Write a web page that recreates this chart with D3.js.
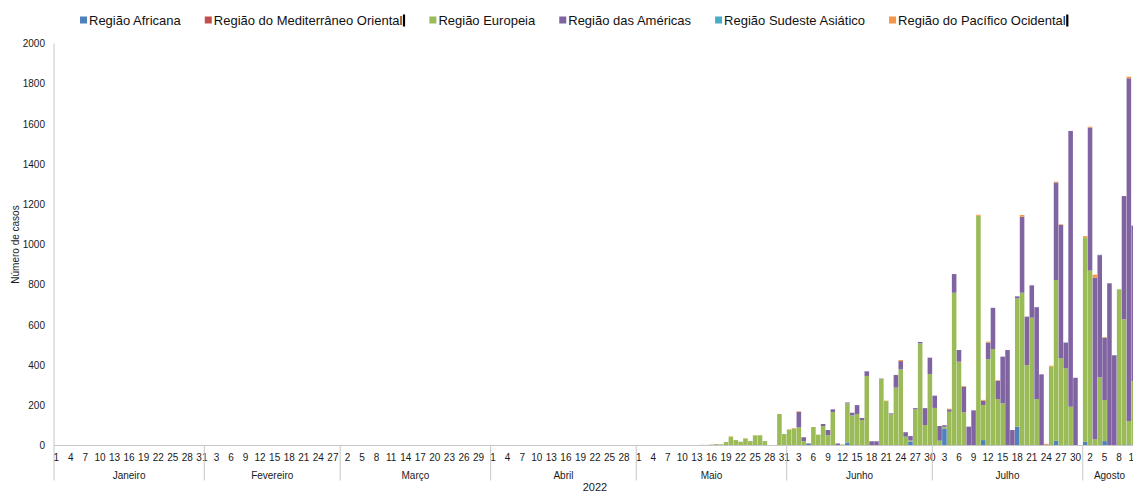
<!DOCTYPE html>
<html>
<head>
<meta charset="utf-8">
<script src="https://cdn.jsdelivr.net/npm/d3@7"></script>
<style>
body { margin: 0; background: #fff; }
svg { display: block; font-family: "Liberation Sans", Arial, sans-serif; }
</style>
</head>
<body>
<svg id="chart" width="1133" height="492"></svg>
<script>
// regions, stacked bottom to top
const regions = ["Região Africana", "Região do Mediterrâneo Oriental", "Região Europeia",
                 "Região das Américas", "Região Sudeste Asiático", "Região do Pacífico Ocidental"];
const regionColors = ["#4f81bd", "#c0504d", "#9bbb59", "#8064a2", "#4bacc6", "#f79646"];
const cursorAfter = ["Região do Mediterrâneo Oriental", "Região do Pacífico Ocidental"];

const monthNames = ["Janeiro", "Fevereiro", "Março", "Abril", "Maio", "Junho", "Julho", "Agosto"];
const yTicks = [0, 200, 400, 600, 800, 1000, 1200, 1400, 1600, 1800, 2000];

// axis covers 1 Jan - 11 Aug 2022, no cases before 13 May
const firstDay = new Date(2022, 0, 1);
const lastDay = new Date(2022, 7, 11);
const firstCaseDay = new Date(2022, 4, 13);

// daily cases from 13 May onwards (one value per day)
const africana = [
  0,0,0,0,0,0,0,0,0,0, 0,0,0,0,0,0,0,0,0,0,
  0,0,0,8,0,0,0,0,0,0, 0,15,0,0,0,0,0,0,0,0,
  0,0,0,0,20,0,0,0,0,0, 0,85,0,0,0,0,0,0,0,27,
  0,0,0,0,0,0,94,0,0,0, 0,0,0,0,23,0,0,0,0,0,
  18,0,0,0,22,0,0,0,0,6, 0];
const mediterraneo = [
  0,0,0,0,0,0,0,0,0,0, 0,0,0,0,0,0,0,0,0,0,
  0,0,0,0,0,0,0,0,0,0, 0,0,0,0,0,0,0,0,0,0,
  0,0,0,0,0,0,0,0,0,0, 0,0,0,0,0,0,0,0,0,0,
  0,0,0,0,0,0,0,0,0,0, 0,0,0,0,0,0,0,0,0,0,
  0,0,0,0,0,0,0,0,0,0, 0];
const europeia = [
  2,2,3,5,6,6,17,42,27,19, 35,22,50,51,22,1,1,157,57,80,
  83,90,21,2,92,54,97,51,167,0, 5,195,150,157,127,346,0,0,331,221,
  155,288,379,44,5,180,508,102,356,187, 24,8,168,760,417,165,0,0,1143,174,
  430,480,231,210,0,0,638,760,400,636, 231,0,0,392,800,434,384,193,0,0,
  1018,870,31,339,204,0,0,777,628,116, 321];
const americas = [
  0,1,0,0,1,0,0,0,0,0, 0,0,0,0,0,0,0,0,0,0,
  0,77,20,2,0,0,10,26,13,10, 0,4,13,44,10,23,21,21,2,0,
  5,63,41,22,22,6,7,84,81,61, 73,8,12,93,58,128,94,175,0,22,
  82,205,91,232,475,77,10,378,241,161, 457,354,5,0,485,663,127,1372,337,0,
  0,712,804,608,310,807,449,0,613,1705, 773];
const sudeste = [
  0,0,0,0,0,0,0,0,0,0, 0,0,0,0,0,0,0,0,0,0,
  0,0,0,0,0,0,0,0,0,0, 0,0,0,0,0,0,0,0,0,0,
  0,0,0,0,0,0,0,0,0,0, 0,0,0,0,0,0,0,0,0,0,
  0,0,0,0,0,0,0,0,0,0, 0,0,0,0,0,0,2,0,0,0,
  0,0,0,2,0,0,0,0,0,0, 0];
const pacifico = [
  0,0,0,0,0,0,0,3,0,0, 1,0,1,0,0,0,0,0,0,0,
  3,3,0,0,0,0,0,0,0,0, 0,0,0,0,0,0,0,0,0,2,
  0,0,5,0,0,0,0,0,0,0, 0,0,3,0,0,3,0,0,5,4,
  5,0,3,0,0,0,0,9,0,0, 0,0,3,5,5,3,0,0,0,0,
  6,4,15,0,3,0,0,0,0,8, 0];
const seriesValues = [africana, mediterraneo, europeia, americas, sudeste, pacifico];

const PLOT_LEFT = 54;
const DAY_WIDTH = 4.852;
const Y_BOTTOM = 445.5;
const Y_TOP = 43.5;
const AXIS_COLOR = "#c6c6c6";
const TEXT_COLOR = "#1a1a1a";

const svg = d3.select("#chart");

const days = d3.timeDay.range(firstDay, d3.timeDay.offset(lastDay, 1));
const rows = days.map(day => {
  const k = d3.timeDay.count(firstCaseDay, day);
  const row = {day: day};
  regions.forEach((r, j) => { row[r] = k >= 0 ? seriesValues[j][k] : 0; });
  return row;
});

const x = d3.scaleBand()
  .domain(days.map(d => +d))
  .range([PLOT_LEFT, PLOT_LEFT + days.length * DAY_WIDTH])
  .paddingInner(0.06);
const y = d3.scaleLinear().domain([0, 2000]).range([Y_BOTTOM, Y_TOP]);
const color = d3.scaleOrdinal().domain(regions).range(regionColors);

const stacked = d3.stack().keys(regions)(rows);

svg.append("g")
  .selectAll("g")
  .data(stacked)
  .join("g")
    .attr("fill", s => color(s.key))
  .selectAll("rect")
  .data(s => s.filter(d => d[1] > d[0]))
  .join("rect")
    .attr("x", d => x(+d.data.day))
    .attr("width", x.bandwidth())
    .attr("y", d => y(d[1]))
    .attr("height", d => y(d[0]) - y(d[1]));

// y axis
const yAxis = svg.append("g")
  .attr("transform", `translate(${PLOT_LEFT},0)`)
  .call(d3.axisLeft(y).tickValues(yTicks).tickFormat(d3.format("d")).tickSize(0).tickPadding(9));
yAxis.select(".domain").remove();
yAxis.selectAll("text").attr("font-size", 10).attr("fill", TEXT_COLOR).attr("font-family", null);

svg.append("line")
  .attr("x1", PLOT_LEFT).attr("x2", PLOT_LEFT)
  .attr("y1", Y_TOP).attr("y2", 480.5)
  .attr("stroke", AXIS_COLOR);

// x axis: every third day, then month level
const xAxis = svg.append("g")
  .attr("transform", `translate(0,${Y_BOTTOM})`)
  .call(d3.axisBottom(x)
    .tickValues(days.filter((d, i) => i % 3 === 0).map(d => +d))
    .tickFormat(d => new Date(d).getDate())
    .tickSize(0).tickPadding(8));
xAxis.select(".domain").remove();
xAxis.selectAll("text").attr("font-size", 10).attr("fill", TEXT_COLOR).attr("font-family", null);

svg.append("line")
  .attr("x1", PLOT_LEFT).attr("x2", x.range()[1])
  .attr("y1", Y_BOTTOM).attr("y2", Y_BOTTOM)
  .attr("stroke", AXIS_COLOR);

const months = monthNames.map((name, m) => {
  const start = m === 0 ? firstDay : new Date(2022, m, 1);
  const end = m === monthNames.length - 1 ? lastDay : new Date(2022, m + 1, 0);
  return {name: name, x0: x(+start) - x.step() * x.paddingInner() / 2, x1: x(+end) + x.step() * (1 - x.paddingInner() / 2)};
});

svg.append("g")
  .selectAll("line")
  .data(months.slice(1))
  .join("line")
    .attr("x1", d => d.x0).attr("x2", d => d.x0)
    .attr("y1", Y_BOTTOM).attr("y2", 480.5)
    .attr("stroke", AXIS_COLOR);

svg.append("g")
  .selectAll("text")
  .data(months)
  .join("text")
    .attr("x", d => (d.x0 + d.x1) / 2)
    .attr("y", 478.5)
    .attr("text-anchor", "middle")
    .attr("font-size", 10)
    .attr("fill", TEXT_COLOR)
    .text(d => d.name);

svg.append("text")
  .attr("x", (PLOT_LEFT + x.range()[1]) / 2)
  .attr("y", 491)
  .attr("text-anchor", "middle")
  .attr("font-size", 11)
  .attr("fill", TEXT_COLOR)
  .text("2022");

svg.append("text")
  .attr("transform", `translate(18.5,${(Y_TOP + Y_BOTTOM) / 2}) rotate(-90)`)
  .attr("text-anchor", "middle")
  .attr("font-size", 10)
  .attr("fill", TEXT_COLOR)
  .text("Número de casos");

// legend, laid out left to right
const legend = svg.append("g");
let lx = 80;
regions.forEach(r => {
  legend.append("rect")
    .attr("x", lx).attr("y", 16.5)
    .attr("width", 7).attr("height", 7)
    .attr("fill", color(r));
  const t = legend.append("text")
    .attr("x", lx + 9).attr("y", 25)
    .attr("font-size", 13)
    .attr("fill", "#111")
    .text(r);
  let end = lx + 9 + t.node().getComputedTextLength();
  if (cursorAfter.includes(r)) {
    legend.append("rect")
      .attr("x", end + 0.5).attr("y", 14.5)
      .attr("width", 2.2).attr("height", 12)
      .attr("fill", "#000");
    end += 3;
  }
  lx = end + 24;
});
</script>
</body>
</html>
